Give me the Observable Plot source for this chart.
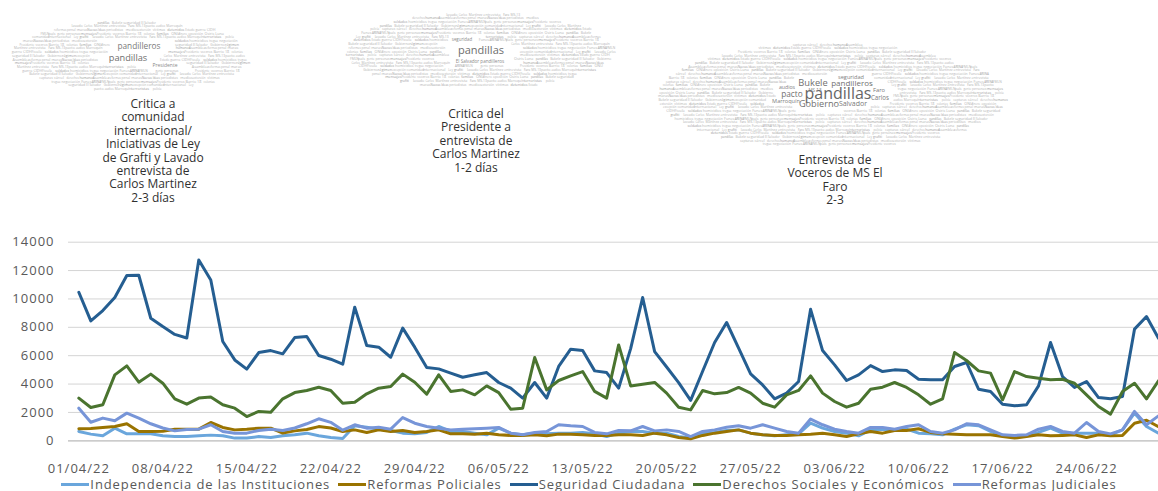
<!DOCTYPE html>
<html>
<head>
<meta charset="utf-8">
<script src="https://cdn.jsdelivr.net/npm/d3@7"></script>
<script src="https://cdn.jsdelivr.net/npm/@observablehq/plot@0.6"></script>
<style>
  body { margin: 0; background: #fff; font-family: "Open Sans", sans-serif; }
  #page { position: relative; width: 1158px; height: 491px; overflow: hidden; background: #fff; }
  #top { position: absolute; left: 0; top: 0; width: 1158px; height: 230px; }
  #top svg { position: absolute; left: 0; top: 0; }
  .nota { position: absolute; transform: translateX(-50%); text-align: center; white-space: nowrap;
          font-size: 12px; line-height: 13.4px; color: #303030; }
  #chart { position: absolute; left: 0; top: 230px; }
  #legend { position: absolute; left: 20px; top: 476px; width: 1138px; height: 16px; display: flex;
            justify-content: center; align-items: center; font-size: 13px; letter-spacing: 0.9px; color: #595959; }
  .item { display: flex; align-items: center; margin: 0 4px; white-space: nowrap; }
  .sw { width: 28px; height: 3px; margin-right: 1px; }
</style>
</head>
<body>
<div id="page">
  <div id="top"></div>
  <div id="chart"></div>
  <div id="legend"></div>
</div>
<script>
// Menciones diarias por tema, 01/04/22 – 30/06/22
const inicio = new Date(Date.UTC(2022, 3, 1));

const independencia = [660,470,350,890,490,490,490,350,300,300,350,400,350,190,190,300,230,350,420,540,350,230,160,1060,960,820,730,540,490,590,1010,660,660,540,420,890,540,420,540,490,540,540,590,490,300,540,660,660,540,540,300,190,540,590,730,770,540,420,350,420,490,1240,890,660,540,350,770,820,770,820,540,490,420,820,1130,1060,660,350,350,350,590,890,540,540,540,540,420,770,1950,1010,540];

const reformasPoliciales = [850,870,940,1010,1200,660,660,680,820,820,820,1290,940,770,820,890,890,550,700,800,1000,900,660,770,590,770,660,730,590,660,770,490,490,470,540,420,380,380,420,350,470,470,420,380,380,420,420,380,540,420,230,140,380,540,660,770,540,420,380,380,420,470,540,420,300,490,660,540,730,730,850,590,490,470,420,420,420,300,190,300,420,350,380,420,230,420,350,380,1240,1450,1000];

const seguridadCiudadana = [10470,8450,9180,10100,11650,11670,8640,8050,7500,7250,12750,11340,7000,5700,5050,6220,6360,6130,7280,7350,6010,5750,5400,9420,6720,6600,5890,7940,6600,5160,5070,4770,4480,4650,4810,4110,3710,3010,4110,3010,5240,6460,6360,4930,4810,3710,6500,10100,6290,5200,4100,2850,4900,6930,8340,6530,4720,3940,2960,3360,4180,9270,6360,5350,4250,4650,5300,4880,5000,4950,4340,4300,4300,5240,5520,3640,3480,2580,2470,2540,3870,6930,4530,3760,4180,3050,2960,3120,7870,8760,7230];

const derechosSociales = [3010,2350,2540,4650,5280,4130,4700,4060,2960,2580,3010,3080,2540,2300,1710,2070,2020,2960,3400,3550,3780,3550,2650,2720,3310,3710,3830,4700,4130,3290,4650,3480,3590,3240,3870,3400,2230,2300,5870,3590,4250,4580,4880,3480,3010,6760,3870,3990,4110,3360,2370,2180,3550,3310,3400,3760,3360,2650,2370,3240,3550,4580,3360,2770,2370,2650,3640,3780,4110,3760,3240,2580,2960,6220,5660,4930,4770,2890,4880,4530,4410,4300,4340,4060,3240,2420,1880,3480,4060,2960,4230];

const reformasJudiciales = [2300,1310,1600,1410,1950,1600,1200,900,700,800,820,1130,660,540,540,730,820,730,900,1200,1550,1300,750,1130,890,960,820,1640,1240,1010,890,770,820,850,890,940,540,420,590,660,1130,1060,1010,590,490,730,700,1010,700,770,660,300,660,770,960,1060,890,1130,890,660,540,1530,1130,820,660,540,940,940,820,1010,1130,660,540,770,1200,1130,770,420,380,420,820,1010,660,540,1290,660,490,770,2070,1130,1760];

const nombresSeries = ["Independencia de las Instituciones", "Reformas Policiales", "Seguridad Ciudadana",
                       "Derechos Sociales y Económicos", "Reformas Judiciales"];
const valoresSeries = [independencia, reformasPoliciales, seguridadCiudadana, derechosSociales, reformasJudiciales];
const coloresSeries = ["#6aa6dc", "#997300", "#255e91", "#4a742f", "#7795d8"];

const yTicks = [0, 2000, 4000, 6000, 8000, 10000, 12000, 14000];

// Notas sobre los eventos comentados
const notas = [
  {x: 153, y: 97, lineas: ["Critica a", "comunidad", "internacional/", "Iniciativas de Ley", "de Grafti y Lavado", "entrevista de", "Carlos Martinez", "2-3 días"]},
  {x: 476, y: 107, lineas: ["Critica del", "Presidente a", "entrevista de", "Carlos Martinez", "1-2 días"]},
  {x: 835, y: 153, lineas: ["Entrevista de", "Voceros de MS El", "Faro", "2-3"]}
];

// Nubes de palabras sobre cada nota
const vocabulario = ["pandillas","Bukele","seguridad","El Salvador","Gobierno","régimen","excepción","comunidad","internacional","Ley","grafiti","lavado","Carlos","Martínez","entrevista","Faro","MS-13","pacto","audios","Marroquín","terroristas","policía","capturas","cárcel","derechos","humanos","Asamblea","reformas","penal","maras","Nuevas Ideas","periodistas","medios","extorsión","víctimas","detenidos","Estado","guerra","CIDH","Fiscalía","soldados","homicidios","tregua","negociación","Funes","ARENA","FMLN","país","gente","personas","mensajes","Presidente","voceros","Barrio 18","colonias","familias","ONU","dinero","oposición","Osiris Luna"];

const nubes = [
  {cx: 133, cy: 56, rx: 123, ry: 35, grandes: [
    {t: "pandilleros", x: 139, y: 48.5, s: 8.3, c: "#7a7a7a"},
    {t: "pandillas", x: 128, y: 61, s: 9.2, c: "#6e6e6e"},
    {t: "Presidente", x: 165, y: 66.5, s: 5, c: "#8a8a8a"}]},
  {cx: 481, cy: 51, rx: 136, ry: 38, grandes: [
    {t: "pandillas", x: 481, y: 54, s: 11, c: "#6e6e6e"},
    {t: "El Salvador pandilleros", x: 480, y: 62.5, s: 4.6, c: "#8a8a8a"},
    {t: "seguridad", x: 462, y: 40.5, s: 4.4, c: "#8a8a8a"}]},
  {cx: 832, cy: 96, rx: 175, ry: 53, grandes: [
    {t: "pandillas", x: 838, y: 98.5, s: 16, c: "#666"},
    {t: "pacto", x: 792, y: 96.5, s: 8.3, c: "#707070"},
    {t: "Bukele", x: 813, y: 86, s: 9.3, c: "#707070"},
    {t: "pandilleros", x: 852, y: 86, s: 8, c: "#707070"},
    {t: "Gobierno", x: 819, y: 106.5, s: 9.2, c: "#707070"},
    {t: "Salvador", x: 853, y: 106, s: 7, c: "#7a7a7a"},
    {t: "Faro", x: 879, y: 91.5, s: 5.8, c: "#7a7a7a"},
    {t: "Carlos", x: 880, y: 99.5, s: 6.2, c: "#7a7a7a"},
    {t: "Marroquín", x: 786, y: 102.5, s: 5.6, c: "#808080"},
    {t: "seguridad", x: 851, y: 79, s: 5.6, c: "#808080"},
    {t: "audios", x: 787, y: 89, s: 5.2, c: "#808080"},
    {t: "MS 13", x: 815, y: 91.5, s: 4.6, c: "#808080"}]}
];

// ---- Parte superior: nubes y notas ----
const cabecera = d3.select("#top");
const svgNubes = cabecera.append("svg").attr("width", 1158).attr("height", 230)
  .attr("font-family", "'Open Sans', sans-serif");

nubes.forEach((n, k) => {
  const g = svgNubes.append("g");
  const cajas = n.grandes.map(w => {
    const ancho = w.t.length * 0.56 * w.s;
    return {x0: w.x - ancho / 2 - 1.5, x1: w.x + ancho / 2 + 1.5, y0: w.y - w.s * 0.85, y1: w.y + w.s * 0.3};
  });
  let idx = k * 11;
  const paso = 3.7;
  for (let y = n.cy - n.ry + 2.5; y <= n.cy + n.ry - 0.5; y += paso) {
    const dy = (y - 1 - n.cy) / n.ry;
    const half = n.rx * Math.sqrt(Math.max(0, 1 - dy * dy));
    let x = n.cx - half + (idx % 4);
    while (true) {
      const w = vocabulario[idx % vocabulario.length];
      const fs = 2.9 + (idx % 3) * 0.4;
      const ancho = w.length * 0.5 * fs;
      if (x + ancho > n.cx + half) break;
      const choca = cajas.some(c => x < c.x1 && x + ancho > c.x0 && y - fs < c.y1 && y > c.y0);
      if (!choca) {
        g.append("text").attr("x", x).attr("y", y).attr("font-size", fs)
          .attr("fill", idx % 5 === 0 ? "#9a9a9a" : "#b3b3b3").text(w);
      }
      x += ancho + 1.4;
      idx++;
    }
    idx += 7;
  }
  n.grandes.forEach(w => {
    g.append("text").attr("x", w.x).attr("y", w.y).attr("font-size", w.s)
      .attr("text-anchor", "middle").attr("fill", w.c).text(w.t);
  });
});

notas.forEach(n => {
  cabecera.append("div").attr("class", "nota")
    .style("left", n.x + "px").style("top", n.y + "px")
    .html(n.lineas.join("<br>"));
});

// ---- Gráfico de líneas ----
const fechas = independencia.map((_, i) => d3.utcDay.offset(inicio, i));
const filas = valoresSeries.flatMap((vals, s) =>
  vals.map((v, i) => ({fecha: fechas[i], valor: v, serie: nombresSeries[s]})));
const xTicks = fechas.filter((_, i) => i % 7 === 0 && i <= 84);

const chart = Plot.plot({
  width: 1158,
  height: 248,
  marginTop: 11.7,
  marginRight: 0,
  marginBottom: 37.7,
  marginLeft: 68,
  style: {fontFamily: "'Open Sans', sans-serif", fontSize: "13px", color: "#595959", letterSpacing: "1px", overflow: "visible", background: "transparent"},
  x: {type: "utc", domain: [new Date(+inicio - 0.86 * 864e5), fechas[fechas.length - 1]]},
  y: {domain: [0, 14000]},
  color: {domain: nombresSeries, range: coloresSeries},
  marks: [
    Plot.gridY(yTicks, {stroke: "#d4d4d4", strokeOpacity: 1, strokeWidth: 1}),
    Plot.ruleY([0], {stroke: "#c4c4c4", strokeWidth: 1.3}),
    Plot.axisY({ticks: yTicks, tickSize: 0, tickPadding: 14, tickFormat: d3.format("d"), label: null}),
    Plot.axisX({ticks: xTicks, tickSize: 0, tickPadding: 23, tickFormat: d3.utcFormat("%d/%m/%y"), label: null}),
    Plot.line(filas, {x: "fecha", y: "valor", z: "serie", stroke: "serie", strokeWidth: 3, strokeLinejoin: "round", strokeLinecap: "round"})
  ]
});
document.getElementById("chart").appendChild(chart);

// ---- Leyenda ----
const leyenda = d3.select("#legend");
nombresSeries.forEach((nombre, i) => {
  const item = leyenda.append("div").attr("class", "item");
  item.append("div").attr("class", "sw").style("background", coloresSeries[i]);
  item.append("span").text(nombre);
});
</script>
</body>
</html>
